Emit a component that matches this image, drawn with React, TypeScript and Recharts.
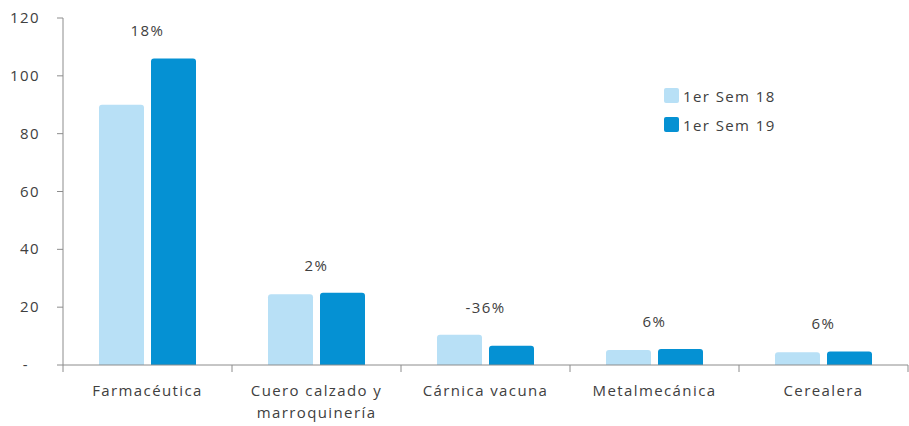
import { BarChart, Bar, XAxis, YAxis, LabelList, Text } from 'recharts';

const categories = ['Farmacéutica', 'Cuero calzado y marroquinería', 'Cárnica vacuna', 'Metalmecánica', 'Cerealera'];
const sem18 = [90, 24.5, 10.5, 5.2, 4.4];
const sem19 = [106, 25, 6.7, 5.5, 4.7];
const growth = ['18%', '2%', '-36%', '6%', '6%'];
const yTicks = [0, 20, 40, 60, 80, 100, 120];

const LIGHT = '#B8E0F6';
const DARK = '#0591D3';
const TEXT = '#404040';
const AXIS = '#8C8C8C';
const FONT = '"Open Sans", sans-serif';
const SPACING = 1.4;

const CHART_W = 909;
const CHART_H = 426;
const Y_AXIS_W = 63;
const MARGIN_RIGHT = 1;
const BAR_GAP = 7;
const BAND = (CHART_W - Y_AXIS_W - MARGIN_RIGHT) / categories.length;

const data = categories.map((name, i) => ({
    name,
    sem18: sem18[i],
    sem19: sem19[i],
}));

const YTick = (props: any) => {
    const {y, payload} = props;
    const zero = payload.value === 0;
    return (
        <text x={zero ? 29 : 40} y={y} dy={5} textAnchor="end" fill={TEXT}
              fontFamily={FONT} fontSize={15} letterSpacing={SPACING}>
            {zero ? '-' : payload.value}
        </text>
    );
};

const XTick = (props: any) => {
    const {x, y, payload, index} = props;
    return (
        <g>
            {index === 0 && <line x1={x - BAND / 2} x2={x - BAND / 2} y1={y - 8} y2={y - 1} stroke={AXIS}/>}
            <line x1={x + BAND / 2} x2={x + BAND / 2} y1={y - 8} y2={y - 1} stroke={AXIS}/>
            <Text x={x} y={y + 12} width={160} textAnchor="middle" verticalAnchor="start"
                  lineHeight={22} fill={TEXT} fontFamily={FONT} fontSize={15}
                  style={{letterSpacing: SPACING}}>
                {payload.value}
            </Text>
        </g>
    );
};

const GrowthLabel = (props: any) => {
    const {x, y, height, index} = props;
    const base = y + height;
    const perUnit = height / sem19[index];
    const top = base - Math.max(sem18[index], sem19[index]) * perUnit;
    return (
        <text x={x - BAR_GAP / 2} y={top - 22} textAnchor="middle" fill={TEXT}
              fontFamily={FONT} fontSize={15} letterSpacing={SPACING}>
            {growth[index]}
        </text>
    );
};

const LegendBox = () => (
    <div style={{position: 'absolute', left: 664, top: 81, fontFamily: FONT, fontSize: 15,
        color: TEXT, letterSpacing: SPACING}}>
        {[['1er Sem 18', LIGHT], ['1er Sem 19', DARK]].map(([label, color]) => (
            <div key={label} style={{display: 'flex', alignItems: 'center', height: 29}}>
                <span style={{width: 15, height: 15, background: color, borderRadius: 2, marginRight: 4}}/>
                <span>{label}</span>
            </div>
        ))}
    </div>
);

export default function App() {
    return (
        <div style={{position: 'absolute', left: 0, top: 0, width: CHART_W, height: CHART_H, background: '#fff'}}>
            <BarChart width={CHART_W} height={CHART_H} data={data}
                      margin={{top: 18, right: MARGIN_RIGHT, bottom: 0, left: 0}}
                      barCategoryGap={36} barGap={BAR_GAP}>
                <XAxis dataKey="name" height={61} interval={0} stroke={AXIS}
                       tickLine={false} tick={<XTick/>}/>
                <YAxis width={Y_AXIS_W} domain={[0, 120]} ticks={yTicks} stroke={AXIS}
                       tickSize={6} tick={<YTick/>}/>
                <Bar dataKey="sem18" fill={LIGHT} radius={[3, 3, 0, 0]} isAnimationActive={false}/>
                <Bar dataKey="sem19" fill={DARK} radius={[3, 3, 0, 0]} isAnimationActive={false}>
                    <LabelList dataKey="sem19" content={<GrowthLabel/>}/>
                </Bar>
            </BarChart>
            <LegendBox/>
        </div>
    );
}
